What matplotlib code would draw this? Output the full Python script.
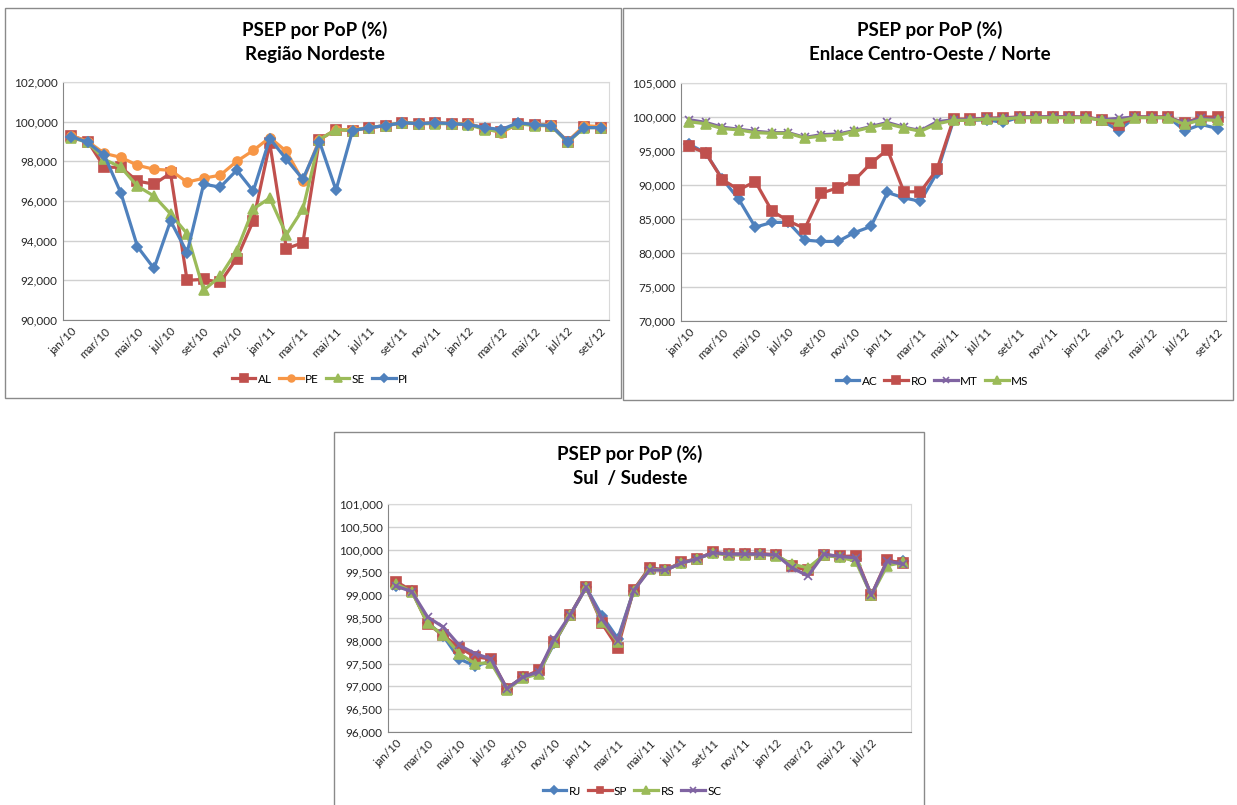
import matplotlib
matplotlib.use("Agg")
import matplotlib.pyplot as plt
from matplotlib.patches import Rectangle
from matplotlib.ticker import FuncFormatter

plt.rcParams['font.family'] = ['Lato', 'DejaVu Sans']

months = ['jan/10', 'fev/10', 'mar/10', 'abr/10', 'mai/10', 'jun/10', 'jul/10', 'ago/10',
          'set/10', 'out/10', 'nov/10', 'dez/10', 'jan/11', 'fev/11', 'mar/11', 'abr/11',
          'mai/11', 'jun/11', 'jul/11', 'ago/11', 'set/11', 'out/11', 'nov/11', 'dez/11',
          'jan/12', 'fev/12', 'mar/12', 'abr/12', 'mai/12', 'jun/12', 'jul/12', 'ago/12', 'set/12']

# Chart 1 - Região Nordeste
AL = [99.3, 99.0, 97.7, 97.7, 97.0, 96.85, 97.4, 92.0, 92.05, 91.9, 93.1, 95.0, 98.9, 93.6, 93.9,
      99.1, 99.6, 99.55, 99.7, 99.8, 99.95, 99.9, 99.95, 99.9, 99.9, 99.65, 99.5, 99.9, 99.85,
      99.8, 99.0, 99.75, 99.7]
PE = [99.3, 99.0, 98.4, 98.2, 97.8, 97.6, 97.55, 96.95, 97.15, 97.3, 98.0, 98.55, 99.2, 98.5, 97.0,
      99.1, 99.6, 99.6, 99.7, 99.8, 99.95, 99.9, 99.95, 99.9, 99.9, 99.65, 99.45, 99.9, 99.85,
      99.85, 99.0, 99.8, 99.75]
SE = [99.2, 98.95, 98.1, 97.7, 96.75, 96.25, 95.35, 94.35, 91.5, 92.2, 93.5, 95.6, 96.15, 94.3, 95.6,
      99.1, 99.6, 99.55, 99.7, 99.8, 99.95, 99.9, 99.9, 99.9, 99.85, 99.6, 99.5, 99.9, 99.8,
      99.8, 98.95, 99.7, 99.7]
PI = [99.25, 98.95, 98.3, 96.4, 93.7, 92.6, 95.0, 93.4, 96.85, 96.7, 97.55, 96.5, 99.15, 98.1, 97.1,
      99.0, 96.55, 99.55, 99.7, 99.8, 99.95, 99.9, 99.95, 99.9, 99.85, 99.7, 99.6, 99.95, 99.85,
      99.8, 99.0, 99.7, 99.7]

# Chart 2 - Enlace Centro-Oeste / Norte
AC = [96.0, 94.7, 90.9, 87.9, 83.8, 84.5, 84.5, 81.9, 81.7, 81.7, 83.0, 83.9, 88.9, 88.1, 87.6,
      91.8, 99.5, 99.5, 99.6, 99.2, 100.0, 100.0, 100.0, 100.0, 100.0, 99.5, 98.0, 100.0, 100.0,
      100.0, 98.0, 98.9, 98.3]
RO = [95.7, 94.7, 90.8, 89.3, 90.5, 86.2, 84.7, 83.6, 88.8, 89.6, 90.7, 93.2, 95.2, 89.0, 89.0,
      92.3, 99.7, 99.7, 99.8, 99.9, 100.0, 100.0, 100.0, 100.0, 100.0, 99.6, 98.8, 100.0, 100.0,
      100.0, 99.1, 100.0, 100.0]
MT = [99.6, 99.2, 98.5, 98.2, 97.9, 97.7, 97.7, 97.0, 97.4, 97.5, 98.0, 98.6, 99.2, 98.5, 98.0,
      99.3, 99.6, 99.6, 99.8, 99.8, 100.0, 100.0, 100.0, 100.0, 99.9, 99.6, 99.8, 100.0, 99.9,
      99.9, 99.1, 99.8, 99.6]
MS = [99.3, 99.0, 98.3, 98.1, 97.7, 97.6, 97.6, 96.9, 97.2, 97.3, 97.9, 98.5, 99.0, 98.4, 97.9,
      99.0, 99.5, 99.5, 99.7, 99.7, 99.9, 99.9, 99.9, 99.9, 99.9, 99.5, 99.4, 99.9, 99.9,
      99.9, 98.9, 99.6, 99.5]

# Chart 3 - Sul / Sudeste
RJ = [99.2, 99.1, 98.4, 98.1, 97.6, 97.45, 97.55, 96.95, 97.2, 97.3, 97.95, 98.57, 99.17, 98.55,
      98.05, 99.1, 99.6, 99.55, 99.7, 99.8, 99.93, 99.9, 99.9, 99.9, 99.88, 99.65, 99.55, 99.88,
      99.83, 99.8, 99.0, 99.7, 99.75]
SP = [99.3, 99.1, 98.37, 98.12, 97.85, 97.65, 97.6, 96.95, 97.2, 97.35, 97.97, 98.57, 99.18, 98.38,
      97.85, 99.12, 99.6, 99.55, 99.72, 99.8, 99.94, 99.9, 99.9, 99.91, 99.89, 99.63, 99.55, 99.89,
      99.85, 99.86, 99.0, 99.77, 99.7]
RS = [99.25, 99.08, 98.38, 98.12, 97.72, 97.5, 97.52, 96.93, 97.18, 97.27, 97.98, 98.56, 99.17,
      98.42, 97.97, 99.1, 99.57, 99.55, 99.7, 99.8, 99.92, 99.88, 99.88, 99.9, 99.87, 99.68, 99.6,
      99.88, 99.83, 99.75, 99.0, 99.65, 99.72]
SC = [99.2, 99.08, 98.52, 98.3, 97.9, 97.72, 97.6, 96.95, 97.2, 97.32, 98.05, 98.57, 99.17, 98.48,
      98.0, 99.1, 99.55, 99.55, 99.7, 99.8, 99.93, 99.9, 99.9, 99.9, 99.88, 99.6, 99.42, 99.9, 99.85,
      99.82, 99.0, 99.75, 99.68]

BLUE = '#4F81BD'
RED = '#C0504D'
GREEN = '#9BBB59'
PURPLE = '#8064A2'
ORANGE = '#F79646'

W, H = 1237, 805
fig = plt.figure(figsize=(W / 100, H / 100), dpi=100)


def rect(l, t, r, b):
    return [l / W, 1 - b / H, (r - l) / W, (b - t) / H]


def fmt(v, pos):
    return ('{:,.3f}'.format(v)).replace('.', ',')


def panel(l, t, r, b):
    fig.patches.append(Rectangle((l / W, 1 - b / H), (r - l) / W, (b - t) / H,
                                 transform=fig.transFigure, fill=False,
                                 ec='#8a8a8a', lw=1.0, zorder=0))


def make_chart(box, title, series, ylim, ystep, n_labels, legend_xy):
    ax = fig.add_axes(rect(*box))
    x = list(range(len(months)))
    for name, vals, color, marker, ms in series:
        ax.plot(x, vals, color=color, lw=2.3, marker=marker, ms=ms,
                markeredgecolor=color, markerfacecolor=color, mew=1.2, label=name)
    ax.set_xlim(-0.5, len(months) - 0.5)
    ax.set_ylim(*ylim)
    yt = []
    v = ylim[0]
    while v <= ylim[1] + 1e-9:
        yt.append(v)
        v += ystep
    ax.set_yticks(yt)
    ax.yaxis.set_major_formatter(FuncFormatter(fmt))
    ax.grid(axis='y', color='#d0d0d0', lw=1.0)
    ax.set_axisbelow(True)
    ticks = list(range(0, n_labels, 2))
    ax.set_xticks(ticks)
    ax.set_xticklabels([months[i] for i in ticks], rotation=45, ha='right',
                       rotation_mode='anchor', fontsize=8.3, color='#262626')
    ax.tick_params(axis='both', length=0, pad=4)
    ax.tick_params(axis='y', labelsize=8.5, labelcolor='#262626')
    for s in ['top', 'right', 'bottom']:
        ax.spines[s].set_color('#d9d9d9')
    ax.spines['left'].set_color('#868686')
    ax.spines['bottom'].set_color('#868686')
    fig.text(title[0], title[1], title[2], ha='center', va='center',
             fontsize=13.5, fontweight='bold', linespacing=1.55)
    fig.legend(*ax.get_legend_handles_labels(), loc='center',
               bbox_to_anchor=(legend_xy[0] / W, 1 - legend_xy[1] / H), ncol=4,
               frameon=False, fontsize=8.5, handlelength=2.0, columnspacing=0.6,
               handletextpad=0.2, markerscale=0.75)
    return ax


panel(5, 8, 621, 398)
panel(623, 8, 1233, 400)
panel(334, 432, 924, 806)

make_chart((63, 82, 609, 320),
           (315 / W, 1 - 42 / H, 'PSEP por PoP (%)\nRegião Nordeste'),
           [('AL', AL, RED, 's', 7), ('PE', PE, ORANGE, 'o', 6.5),
            ('SE', SE, GREEN, '^', 7.5), ('PI', PI, BLUE, 'D', 5.5)],
           (90, 102), 2, 33, (320, 379))

make_chart((681, 83, 1226, 321),
           (930 / W, 1 - 42 / H, 'PSEP por PoP (%)\nEnlace Centro-Oeste / Norte'),
           [('AC', AC, BLUE, 'D', 5.5), ('RO', RO, RED, 's', 7),
            ('MT', MT, PURPLE, 'x', 6), ('MS', MS, GREEN, '^', 7.5)],
           (70, 105), 5, 33, (932, 381))

make_chart((388, 504, 911, 732),
           (630 / W, 1 - 466 / H, 'PSEP por PoP (%)\nSul  / Sudeste'),
           [('RJ', RJ, BLUE, 'D', 5), ('SP', SP, RED, 's', 6.5),
            ('RS', RS, GREEN, '^', 7), ('SC', SC, PURPLE, 'x', 6)],
           (96, 101), 0.5, 31, (632, 791))

fig.savefig('out.png', dpi=100, facecolor='white')
